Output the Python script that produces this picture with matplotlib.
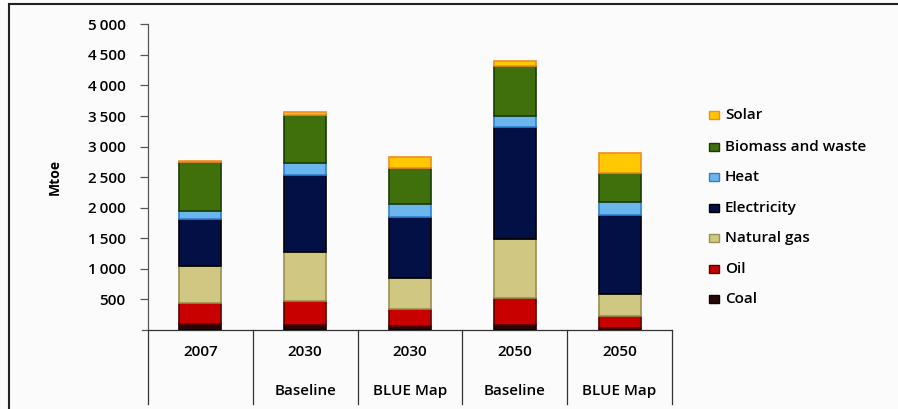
import matplotlib
matplotlib.use("Agg")
import matplotlib.pyplot as plt
from matplotlib.patches import Rectangle
from matplotlib.lines import Line2D
import numpy as np

plt.rcParams['font.family'] = ['Open Sans', 'DejaVu Sans']
plt.rcParams['font.weight'] = 'semibold'

years = ["2007", "2030", "2030", "2050", "2050"]
scenarios = ["", "Baseline", "BLUE Map", "Baseline", "BLUE Map"]

# Final energy use in buildings by source (Mtoe)
coal = [100, 80, 65, 76, 38]
oil = [336, 400, 284, 453, 197]
natural_gas = [611, 796, 496, 960, 354]
electricity = [764, 1265, 1009, 1826, 1287]
heat = [142, 197, 207, 185, 218]
biomass = [796, 780, 584, 824, 480]
solar = [16, 44, 180, 77, 327]

series_names = ["Coal", "Oil", "Natural gas", "Electricity", "Heat",
                "Biomass and waste", "Solar"]
series_values = [coal, oil, natural_gas, electricity, heat, biomass, solar]
face_colors = ["#2a0505", "#c80000", "#d0c882", "#021045", "#6cb6ee",
               "#3f700c", "#ffc800"]
edge_colors = ["#100000", "#5a0000", "#9a9050", "#000000", "#2f7fd0",
               "#1c3a04", "#f08c20"]

y_ticks = [500, 1000, 1500, 2000, 2500, 3000, 3500, 4000, 4500, 5000]

W, H = 898, 409
fig = plt.figure(figsize=(W / 100, H / 100), dpi=100)
fig.patch.set_facecolor("#fbfbfb")

ax_left, ax_right, ax_bottom, ax_top = 148, 672, 330, 24.3
ax = fig.add_axes([ax_left / W, 1 - ax_bottom / H,
                   (ax_right - ax_left) / W, (ax_bottom - ax_top) / H])
ax.set_facecolor("#fbfbfb")

x = np.arange(len(years))
bottom = np.zeros(len(years))
for name, vals, fc, ec in zip(series_names, series_values, face_colors, edge_colors):
    ax.bar(x, vals, width=0.4, bottom=bottom, color=fc, edgecolor=ec,
           linewidth=1.2, label=name, zorder=3)
    bottom += np.array(vals)

FS = 11
ax.set_xlim(-0.5, len(years) - 0.5)
ax.set_ylim(0, 5000)
ax.set_yticks(y_ticks)
ax.set_yticklabels([f"{v:,}".replace(",", "\u2009") if v >= 1000 else str(v)
                    for v in y_ticks], fontsize=FS)
ax.tick_params(axis="y", direction="out", length=6, width=0.9,
               color="#555555", pad=10)
ax.set_xticks([])

for side in ("top", "right"):
    ax.spines[side].set_visible(False)
ax.spines["left"].set_color("#555555")
ax.spines["bottom"].set_color("#333333")
ax.spines["left"].set_linewidth(0.9)
ax.spines["bottom"].set_linewidth(0.9)

ax.set_ylabel("Mtoe", fontsize=10, fontweight="bold", labelpad=19)

# Category axis: separators and two-level labels below the baseline
axis_h = ax_bottom - ax_top
trans = ax.get_xaxis_transform()
sep_depth = -(404 - ax_bottom) / axis_h
for xs in np.arange(-0.5, len(years), 1.0):
    ax.add_line(Line2D([xs, xs], [0, sep_depth], transform=trans,
                       color="#333333", linewidth=0.9, clip_on=False))
ax.add_line(Line2D([-0.5 - 6 / 104.8, -0.5], [0, 0], transform=trans,
                   color="#555555", linewidth=0.9, clip_on=False))
for xi, (yr, sc) in enumerate(zip(years, scenarios)):
    ax.text(xi, -(352 - ax_bottom) / axis_h, yr, transform=trans,
            ha="center", va="center", fontsize=FS)
    if sc:
        ax.text(xi, -(391 - ax_bottom) / axis_h, sc, transform=trans,
                ha="center", va="center", fontsize=FS)

# Legend, top entry first
legend_y = [299, 269, 238, 208, 177, 147, 115]
for name, fc, ec, ly in zip(series_names, face_colors, edge_colors, legend_y):
    fig.patches.append(Rectangle((709 / W, 1 - (ly + 4) / H), 10 / W, 8 / H,
                                 transform=fig.transFigure, facecolor=fc,
                                 edgecolor=ec, linewidth=1.0))
    fig.text(725 / W, 1 - ly / H, name, fontsize=FS, va="center", ha="left")

# Outer frame edges
fig.add_artist(Line2D([9 / W, 1], [1 - 4 / H, 1 - 4 / H],
                      transform=fig.transFigure, color="#222222", linewidth=1.5))
fig.add_artist(Line2D([9 / W, 9 / W], [0, 1 - 4 / H],
                      transform=fig.transFigure, color="#222222", linewidth=1.5))

fig.savefig("out.png", dpi=100, facecolor=fig.get_facecolor())
